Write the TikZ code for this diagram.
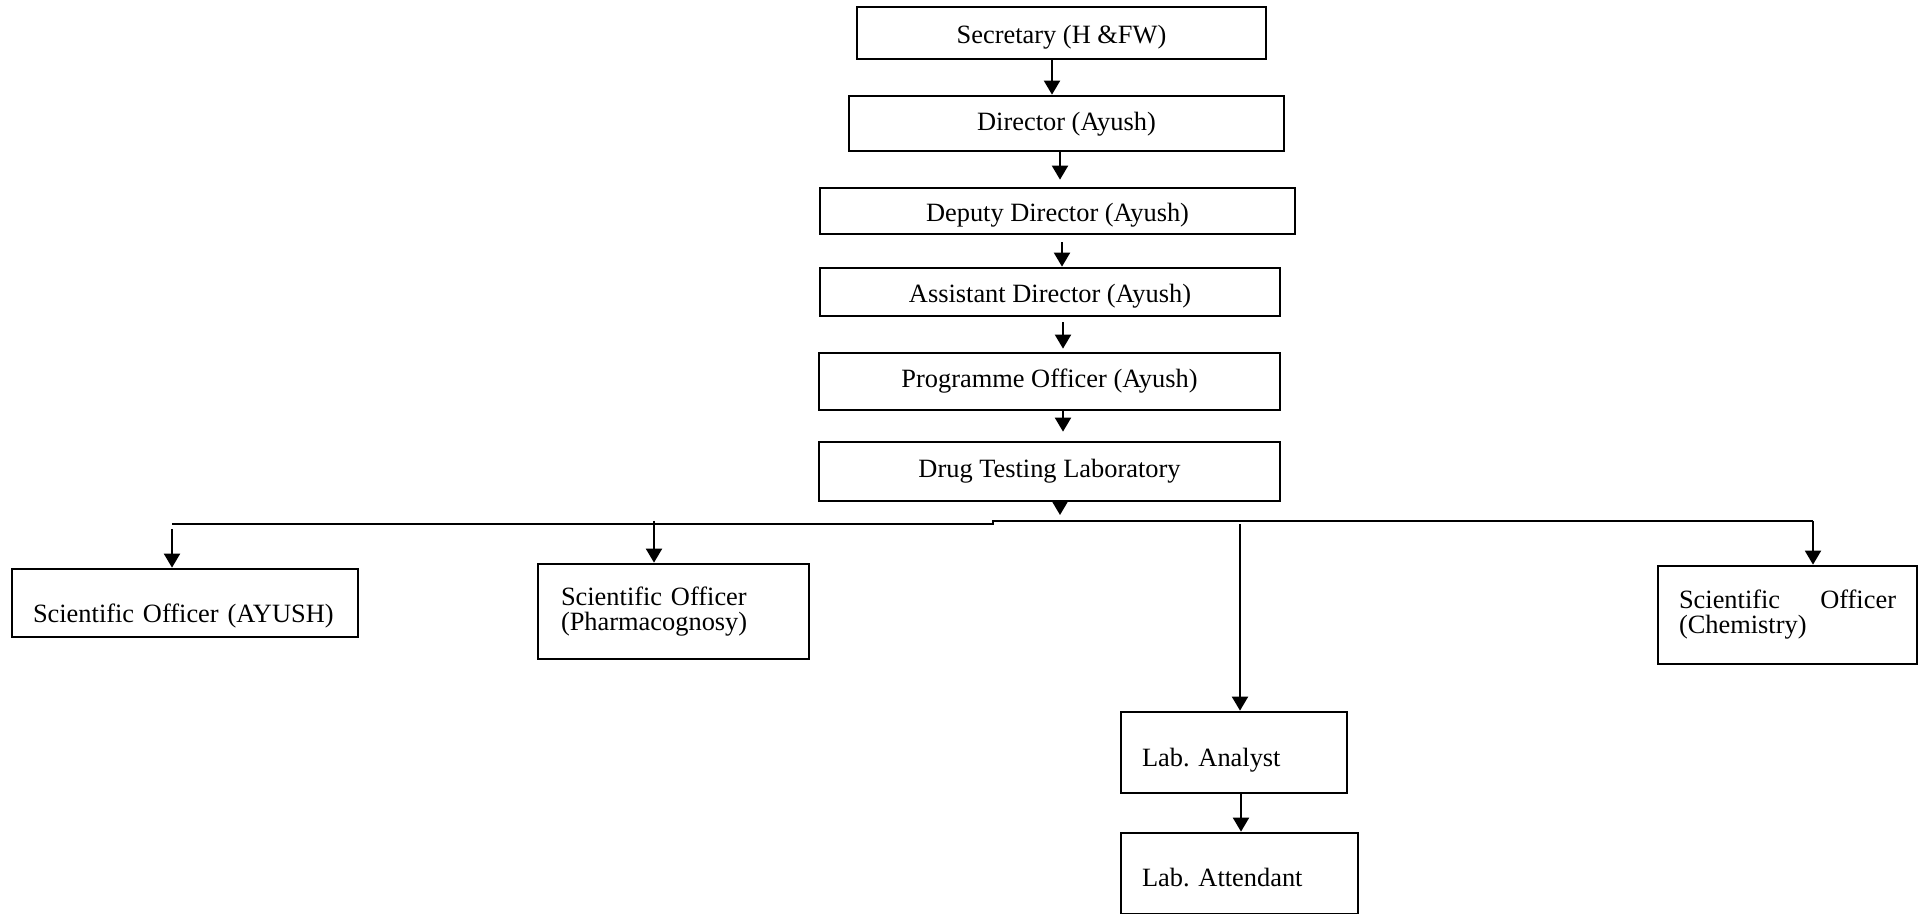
\documentclass[tikz,border=0pt]{standalone}
\usepackage{fontspec}
\setmainfont{Liberation Serif}
\usetikzlibrary{arrows.meta}

\begin{document}
\frenchspacing
\begin{tikzpicture}[x=0.5pt,y=-0.5pt,
 font=\fontsize{13.2pt}{12.5pt}\selectfont,
 post/.style={draw,line width=1.35pt,inner sep=0pt,text height=#1,text depth=0pt},
 post/.default=6.5pt,
 lpost/.style={draw,line width=1.35pt,align=left,inner xsep=10.5pt},
 arr/.style={line width=1pt,-{Triangle[length=7pt,width=8pt]}}]
 \useasboundingbox (0,0) rectangle (1924,914);
 \node[post=11pt,minimum width=204.5pt,minimum height=26pt] (sec) at (1061.5,33) {Secretary (H \&FW)};
 \node[post=7.5pt,minimum width=217.5pt,minimum height=27.5pt] (dir) at (1066.5,123.5) {Director (Ayush)};
 \node[post=11pt,minimum width=237.5pt,minimum height=23pt] (dep) at (1057.5,211) {Deputy Director (Ayush)};
 \node[post=11pt,minimum width=230pt,minimum height=24pt] (ast) at (1050,292) {Assistant Director (Ayush)};
 \node[post,minimum width=230.5pt,minimum height=28.5pt] (prg) at (1049.5,381.5) {Programme Officer (Ayush)};
 \node[post,minimum width=230.5pt,minimum height=29.5pt] (dtl) at (1049.5,471.5) {Drug Testing Laboratory};
 \node[lpost,text width=152pt,minimum height=34pt,text height=20pt,text depth=0pt] (ayu) at (185,603) {Scientific Officer (AYUSH)};
 \node[lpost,inner xsep=11.5pt,text width=112.5pt,minimum height=47.5pt] (pha) at (673.5,611.5) {Scientific Officer\\(Pharmacognosy)};
 \node[lpost,text width=108.5pt,minimum height=49pt] (che) at (1787.5,615) {Scientific\hfill Officer\\(Chemistry)};
 \node[lpost,text width=92pt,minimum height=40.5pt,text height=13.5pt,text depth=0pt] (ana) at (1234,752.5) {Lab. Analyst};
 \node[lpost,text width=97.5pt,minimum height=40.5pt,text height=12.5pt,text depth=0pt] (att) at (1239.5,873.5) {Lab. Attendant};
 \draw[arr] (1052,0 |- sec.south) -- (1052,0 |- dir.north);
 \draw[arr,shorten >=3.5pt] (1060,0 |- dir.south) -- (1060,0 |- dep.north);
 \draw[arr,shorten <=3.5pt] (1062,0 |- dep.south) -- (1062,0 |- ast.north);
 \draw[arr,shorten <=2.5pt,shorten >=1.5pt] (1063,0 |- ast.south) -- (1063,0 |- prg.north);
 \draw[arr,shorten >=4.5pt] (1063,0 |- prg.south) -- (1063,0 |- dtl.north);
 \coordinate (drop) at (1060,515);
 \coordinate (busL) at (172,524);
 \coordinate (busR) at (1813,521);
 \draw[arr] (drop |- dtl.south) -- (drop);
 \draw[line width=1pt] (busL) -- (993,524) -- (993,521) -- (busR);
 \draw[arr] (172,529) -- (172,0 |- ayu.north);
 \draw[arr] (654,521) -- (654,0 |- pha.north);
 \draw[arr] (1240,524) -- (1240,0 |- ana.north);
 \draw[arr] (busR) -- (busR |- che.north);
 \draw[arr] (1241,0 |- ana.south) -- (1241,0 |- att.north);
\end{tikzpicture}
\end{document}
